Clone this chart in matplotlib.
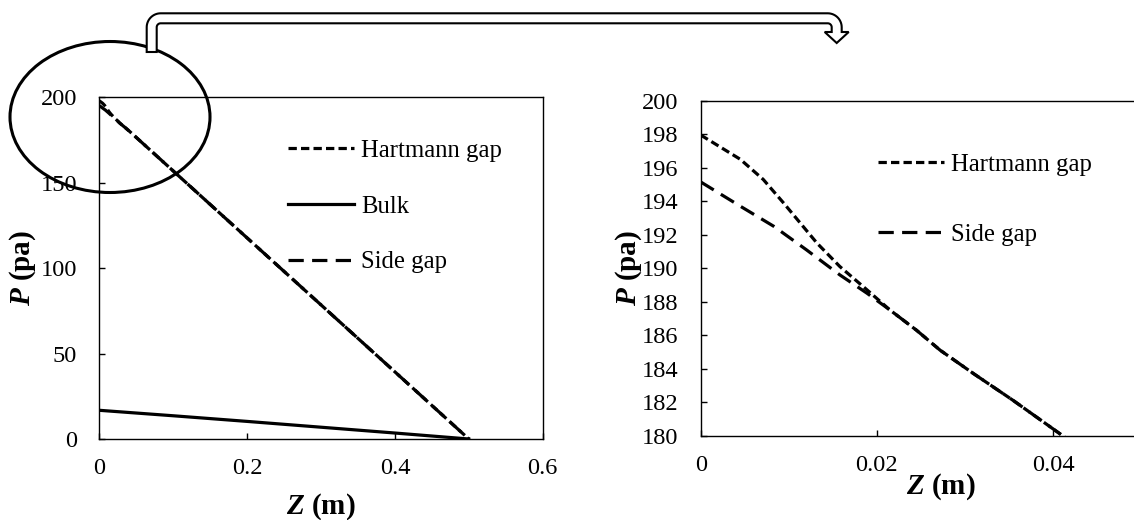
import matplotlib
matplotlib.use("Agg")
import matplotlib.pyplot as plt
from matplotlib.patches import Ellipse, Polygon
from matplotlib.ticker import FuncFormatter
import numpy as np

plt.rcParams['font.family'] = ['Liberation Serif', 'DejaVu Serif']
plt.rcParams['mathtext.fontset'] = 'custom'
plt.rcParams['mathtext.rm'] = 'Liberation Serif'
plt.rcParams['mathtext.bfit'] = 'Liberation Serif:italic:bold'
plt.rcParams['lines.scale_dashes'] = False

# pressure along the duct
z_hart = [0, 0.0045, 0.0071, 0.0094, 0.0113, 0.0132, 0.0158, 0.0189, 0.0215,
          0.0245, 0.0272, 0.031, 0.0355, 0.0411, 0.1, 0.2, 0.3, 0.4, 0.5]
p_hart = [197.95, 196.5, 195.3, 193.9, 192.7, 191.5, 190.1, 188.7, 187.5,
          186.3, 185.1, 183.7, 182.1, 180.0, 156.9, 117.7, 78.5, 39.3, 0.0]

z_side = [0, 0.0045, 0.0083, 0.012, 0.0158, 0.0189, 0.0215, 0.0245, 0.0272,
          0.031, 0.0355, 0.0411, 0.1, 0.2, 0.3, 0.4, 0.5]
p_side = [195.15, 193.7, 192.5, 191.1, 189.6, 188.5, 187.5, 186.3, 185.1,
          183.7, 182.1, 180.0, 156.9, 117.7, 78.5, 39.3, 0.0]

z_bulk = [0, 0.1, 0.2, 0.3, 0.4, 0.5]
p_bulk = [16.8, 13.6, 10.3, 6.9, 3.5, 0.0]

left_xticks = [0, 0.2, 0.4, 0.6]
left_yticks = [0, 50, 100, 150, 200]
right_xticks = [0, 0.02, 0.04]
right_yticks = list(range(180, 201, 2))

W, H = 1134, 520
fig = plt.figure(figsize=(W / 100, H / 100), dpi=100)

hart_style = dict(color='black', lw=2.3, dashes=(6.0, 3.0))
side_style = dict(color='black', lw=2.3, dashes=(11.0, 6.0))
bulk_style = dict(color='black', lw=2.3)

fmt = FuncFormatter(lambda v, pos: '%g' % v)


def style_axes(ax):
    for s in ax.spines.values():
        s.set_linewidth(1.0)
    ax.tick_params(direction='in', length=4.5, width=1.0, labelsize=17.6,
                   colors='black')
    ax.tick_params(axis='y', pad=16)
    ax.tick_params(axis='x', pad=14)
    ax.xaxis.set_major_formatter(fmt)
    ax.yaxis.set_major_formatter(fmt)


# left panel
ax1 = fig.add_axes([99.3 / W, 1 - 439 / H, 443.4 / W, 341.7 / H])
ax1.plot(z_hart, p_hart, label='Hartmann gap', **hart_style)
ax1.plot(z_bulk, p_bulk, label='Bulk', **bulk_style)
ax1.plot(z_side, p_side, label='Side gap', **side_style)
ax1.set_xlim(0, 0.6)
ax1.set_ylim(0, 200)
ax1.set_xticks(left_xticks)
ax1.set_yticks(left_yticks)
style_axes(ax1)
ax1.set_xlabel(r'$\mathbfit{Z}$ (m)', fontsize=21, fontweight='bold')
ax1.set_ylabel(r'$\mathbfit{P}$ (pa)', fontsize=21, fontweight='bold')
ax1.xaxis.label.set_va('center')
ax1.yaxis.label.set_va('center')
ax1.xaxis.set_label_coords(0.5, -0.197)
ax1.yaxis.set_label_coords(-0.172, 0.5)
ax1.legend(loc='upper left', bbox_to_anchor=(0.4256, 0.876), frameon=False,
           fontsize=17.8, handlelength=2.65, handletextpad=0.3,
           labelspacing=1.35, borderpad=0, borderaxespad=0)

# right panel (zoom of the circled region)
ax2 = fig.add_axes([700.7 / W, 1 - 435.7 / H, 440.3 / W, 335 / H])
ax2.plot(z_hart, p_hart, label='Hartmann gap', **hart_style)
ax2.plot(z_side, p_side, label='Side gap', **side_style)
ax2.set_xlim(0, 0.05)
ax2.set_ylim(180, 200)
ax2.set_xticks(right_xticks)
ax2.set_yticks(right_yticks)
style_axes(ax2)
ax2.spines['right'].set_visible(False)
ax2.set_xlabel(r'$\mathbfit{Z}$ (m)', fontsize=21, fontweight='bold')
ax2.set_ylabel(r'$\mathbfit{P}$ (pa)', fontsize=21, fontweight='bold')
ax2.xaxis.label.set_va('center')
ax2.yaxis.label.set_va('center')
ax2.xaxis.set_label_coords(0.546, -0.153)
ax2.yaxis.set_label_coords(-0.163, 0.5)
ax2.legend(loc='upper left', bbox_to_anchor=(0.4027, 0.843), frameon=False,
           fontsize=17.8, handlelength=2.65, handletextpad=0.3,
           labelspacing=1.95, borderpad=0, borderaxespad=0)

# overlay in pixel coordinates for the circle and the bent arrow
ov = fig.add_axes([0, 0, 1, 1], zorder=10)
ov.set_xlim(0, W)
ov.set_ylim(H, 0)
ov.axis('off')
ov.patch.set_alpha(0)

ov.add_patch(Ellipse((110, 117), 200, 151, fill=False, edgecolor='black',
                     lw=2.2))

# hollow arrow: up from the circle, across, and down towards the zoom panel
x_start, y_start = 151.7, 52
x_end, y_top = 836.7, 18.3
y_head, y_tip = 32, 43
half_w, rad, head_hw = 5, 9, 12


def arc(cx, cy, r, t0, t1, n=16):
    t = np.radians(np.linspace(t0, t1, n))
    return list(zip(cx + r * np.cos(t), cy + r * np.sin(t)))


lc = (x_start + rad, y_top + rad)
rc = (x_end - rad, y_top + rad)
pts = [(x_start - half_w, y_start)]
pts += arc(lc[0], lc[1], rad + half_w, 180, 270)
pts += arc(rc[0], rc[1], rad + half_w, 270, 360)
pts += [(x_end + half_w, y_head), (x_end + head_hw, y_head), (x_end, y_tip),
        (x_end - head_hw, y_head), (x_end - half_w, y_head)]
pts += arc(rc[0], rc[1], rad - half_w, 360, 270)
pts += arc(lc[0], lc[1], rad - half_w, 270, 180)
pts += [(x_start + half_w, y_start)]
ov.add_patch(Polygon(pts, closed=True, facecolor='white', edgecolor='black',
                     lw=1.5, joinstyle='miter'))

fig.savefig('out.png', dpi=100)
